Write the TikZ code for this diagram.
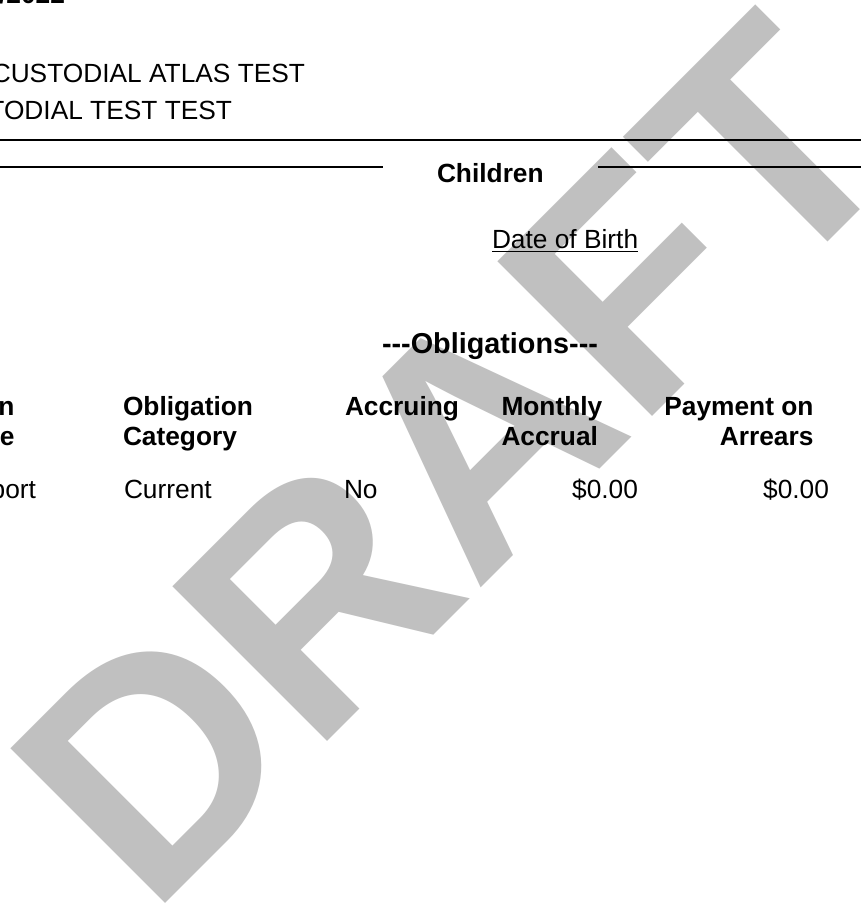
\documentclass[tikz,border=0pt]{standalone}
\usepackage{fontspec}
\setmainfont{Liberation Sans}
\definecolor{wmgray}{RGB}{192,192,192}
\begin{document}
\begin{tikzpicture}[x=1pt,y=-1pt,
  txt/.style={inner sep=0pt, outer sep=0pt, font=\fontsize{26.3}{30}\selectfont},
  hdr/.style={inner sep=0pt, outer sep=0pt, font=\fontsize{26.3}{30}\selectfont\bfseries},
  ttl/.style={inner sep=0pt, outer sep=0pt, font=\fontsize{28.8}{32}\selectfont\bfseries},
  wm/.style={inner sep=0pt, outer sep=0pt, text=wmgray, font=\fontsize{318}{318}\selectfont\bfseries},
  rule/.style={line width=2pt},
  ul/.style={line width=1.4pt}]
\useasboundingbox (0,0) rectangle (861,906);
\clip (0,0) rectangle (861,906);
\fill[white] (0,0) rectangle (861,906);
% watermark
\node[wm, rotate=45, anchor=base west] (wmark) at (150.6,918.5) {DRAFT};
% header lines
\node[hdr, anchor=base east] (date) at (65,3) {/2022};
\node[txt, anchor=base east] (p1) at (305,82) {CUSTODIAL ATLAS TEST};
\node[txt, anchor=base east] (p2) at (232,119) {TODIAL TEST TEST};
% rules
\coordinate (r1a) at (0,140);
\coordinate (r1b) at (861,140);
\coordinate (r2a) at (0,167);
\coordinate (r2b) at (383,167);
\coordinate (r3a) at (598,167);
\coordinate (r3b) at (861,167);
\draw[rule] (r1a) -- (r1b);
\draw[rule] (r2a) -- (r2b);
\draw[rule] (r3a) -- (r3b);
\node[hdr, anchor=base west] (children) at (437,182) {Children};
\node[txt, anchor=base west] (dob) at (492,248) {Date of Birth};
\draw[ul] ([yshift=-3.6pt]dob.base west) -- ([yshift=-3.6pt]dob.base east);
% obligations
\node[ttl, anchor=base west] (obl) at (382,353) {{-}{-}{-}Obligations{-}{-}{-}};
\node[hdr, anchor=base east] (h1a) at (14.5,415) {n};
\node[hdr, anchor=base east] (h1b) at (14.5,445) {e};
\node[hdr, anchor=base west] (h2a) at (123,415) {Obligation};
\node[hdr, anchor=base west] (h2b) at (123,445) {Category};
\node[hdr, anchor=base west] (h3) at (345,415) {Accruing};
\node[hdr, anchor=base west] (h4a) at (501.5,415) {Monthly};
\node[hdr, anchor=base west] (h4b) at (501.5,445) {Accrual};
\node[hdr, anchor=base east] (h5a) at (813.5,415) {Payment on};
\node[hdr, anchor=base east] (h5b) at (813.5,445) {Arrears};
% data row
\node[txt, anchor=base east] (d1) at (36,498) {port};
\node[txt, anchor=base west] (d2) at (124,498) {Current};
\node[txt, anchor=base west] (d3) at (344,498) {No};
\node[txt, anchor=base east] (d4) at (638,498) {\$0.00};
\node[txt, anchor=base east] (d5) at (829,498) {\$0.00};
\end{tikzpicture}
\end{document}
